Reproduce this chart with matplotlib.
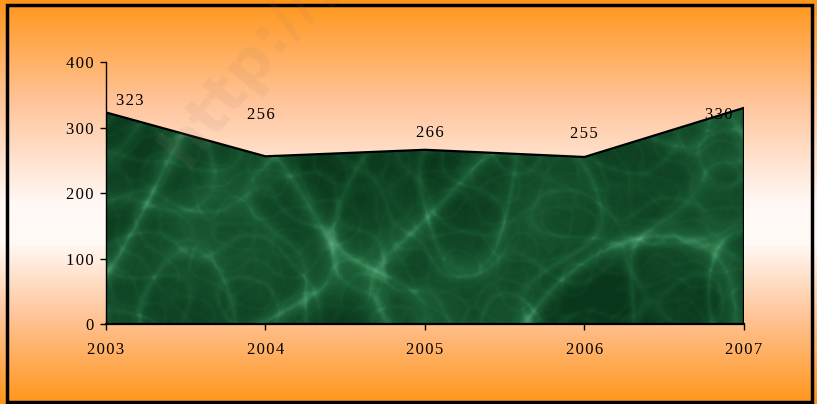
import numpy as np
import matplotlib.pyplot as plt
from matplotlib.colors import LinearSegmentedColormap

years = [2003, 2004, 2005, 2006, 2007]
values = [323, 256, 266, 255, 330]
yticks = [0, 100, 200, 300, 400]

# label offsets in pixels (dx, dy), mimicking the original placement
label_offsets = [(24, 11), (-5, 41), (5, 17), (-1, 23), (-25, -7)]

plt.rcParams['font.family'] = ['Liberation Serif', 'DejaVu Serif']

def spaced(s):
    return "\u200a".join(s)

fig = plt.figure(figsize=(8.17, 4.04), dpi=100)

# background: orange -> white -> orange vertical gradient
bg = fig.add_axes([0, 0, 1, 1], zorder=-10)
grad_cmap = LinearSegmentedColormap.from_list(
    "bg", [(0.0, "#ff961a"), (0.25, "#ffc49a"), (0.5, "#fff8f4"),
           (0.6, "#fffaf7"), (0.8, "#ffc090"), (1.0, "#ff961a")])
g = np.linspace(0, 1, 400).reshape(-1, 1)
bg.imshow(g, aspect="auto", cmap=grad_cmap, extent=[0, 1, 0, 1], origin="upper")
bg.set_xlim(0, 1)
bg.set_ylim(0, 1)
bg.axis("off")
# black frame
bg.add_patch(plt.Rectangle((0.009, 0.006), 0.985, 0.982, fill=False,
                           edgecolor="black", linewidth=2.5, transform=bg.transAxes))

# watermark
fig.text(0.31, 0.86, "http://p", rotation=52, fontsize=44, fontweight="bold",
         color="#a08070", alpha=0.1, ha="center", va="center",
         family=["DejaVu Sans"])

ax = fig.add_axes([0.1297, 0.198, 0.7809, 0.6485])
ax.patch.set_alpha(0)

# mottled marble-like texture (deterministic sine octaves), clipped to the area
xx, yy = np.meshgrid(np.linspace(0, 2.5, 640), np.linspace(0, 1.0, 260))
ridges = np.zeros_like(xx)
mottle = np.zeros_like(xx)
for o in range(5):
    f = 6.0 * 1.9 ** o
    n = np.zeros_like(xx)
    for j in range(7):
        a = j * 2.39996 + o * 0.7
        n += np.sin(f * (xx * np.cos(a) + yy * np.sin(a)) + j * 1.3 + o * 0.9)
    n /= np.sqrt(7 / 2)
    ridges += (0.6 ** o) * np.clip(1 - np.abs(n), 0, 1) ** 3
    mottle += (0.55 ** o) * n
ridges /= ridges.max()
mottle = (mottle - mottle.min()) / (mottle.max() - mottle.min())
tex = 0.7 * ridges + 0.35 * mottle
marble = LinearSegmentedColormap.from_list(
    "marble", ["#0a361b", "#134b29", "#1e6139", "#3d8c60", "#7cbe98"])
im = ax.imshow(tex, extent=[years[0], years[-1], 0, 400], origin="lower",
               aspect="auto", cmap=marble, vmin=0.05, vmax=0.95, zorder=1,
               interpolation="bicubic")
poly = ax.fill_between(years, values, 0, facecolor="none", edgecolor="none", zorder=2)
im.set_clip_path(poly.get_paths()[0], transform=ax.transData)

# outline of the area
ax.plot(years + [years[-1]], values + [0], color="black", linewidth=1.6, zorder=3)

for x, v, (dx, dy) in zip(years, values, label_offsets):
    ax.annotate(spaced(str(v)), (x, v), xytext=(dx, dy), textcoords="offset pixels",
                ha="center", va="center", fontsize=12, zorder=4)

ax.set_xlim(years[0], years[-1])
ax.set_ylim(0, 400)
ax.set_xticks(years)
ax.set_xticklabels([spaced(str(y)) for y in years])
ax.set_yticks(yticks)
ax.set_yticklabels([spaced(str(t)) for t in yticks])
ax.tick_params(axis="both", labelsize=12, direction="out", length=4, width=1)
ax.tick_params(axis="x", pad=9)
ax.tick_params(axis="y", pad=5)
for s in ["top", "right"]:
    ax.spines[s].set_visible(False)
ax.spines["left"].set_linewidth(1)
ax.spines["bottom"].set_linewidth(1.6)

fig.savefig("out.png", dpi=100)
